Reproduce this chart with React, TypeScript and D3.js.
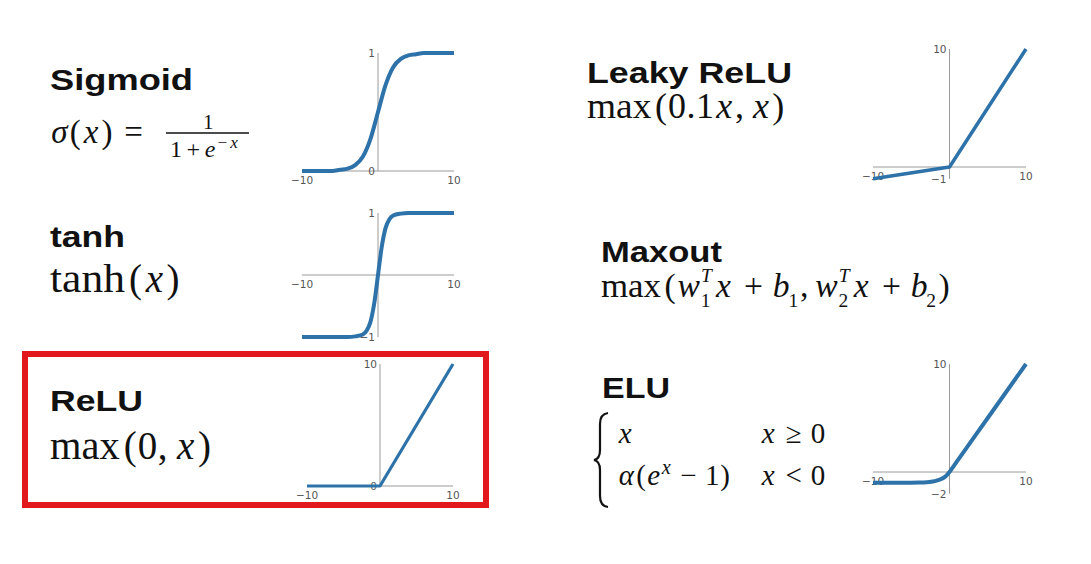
import React, { useEffect, useRef } from 'react';
import * as d3 from 'd3';

const W = 1091;
const H = 564;
const BLUE = '#2d72a8';
const AXIS = '#9a9a9a';

// curve samples
const sigmoidX = [-10, -8, -6, -5, -4, -3, -2, -1, 0, 1, 2, 3, 4, 5, 6, 8, 10];
const sigmoidY = [0, 0, 0, 0.01, 0.02, 0.05, 0.12, 0.27, 0.5, 0.73, 0.88, 0.95, 0.98, 0.99, 1, 1, 1];

const tanhX = [-10, -5, -4, -3, -2, -1.5, -1, -0.5, 0, 0.5, 1, 1.5, 2, 3, 4, 5, 10];
const tanhY = [-1, -1, -1, -0.99, -0.96, -0.9, -0.76, -0.46, 0, 0.46, 0.76, 0.9, 0.96, 0.99, 1, 1, 1];

const reluX = [-10, 0, 10];
const reluY = [0, 0, 10];

const leakyX = [-10, 0, 10];
const leakyY = [-1, 0, 10];

const eluX = [-10, -6, -4, -3, -2, -1, -0.5, 0, 0.5, 1, 2, 5, 10];
const eluY = [-1, -1, -0.98, -0.95, -0.86, -0.63, -0.39, 0, 0.5, 1, 2, 5, 10];

// tick labels
const X_TICKS = [-10, 10];
const sigmoidYTicks = [1, 0];
const tanhYTicks = [1, -1];
const reluYTicks = [10, 0];
const leakyYTicks = [10, -1];
const eluYTicks = [10, -2];

const titles = [
  { text: 'Sigmoid', x: 50, y: 90, w: 143 },
  { text: 'tanh', x: 50, y: 247, w: 75 },
  { text: 'ReLU', x: 50, y: 411, w: 93 },
  { text: 'Leaky ReLU', x: 587, y: 83, w: 205 },
  { text: 'Maxout', x: 601, y: 262, w: 121 },
  { text: 'ELU', x: 602, y: 398, w: 68 },
];

type Opt = { it?: boolean; s?: number; dy?: number; keep?: boolean };
type Piece = [string, number, Opt?];

const sub = (t: string): Piece => [t, 0.5, { s: 0.58, dy: 0.3 }];
const sup = (t: string, w: number): Piece => [t, w, { s: 0.58, dy: -0.45, it: true, keep: true }];

const sigmoidLhs: Piece[] = [['σ', 0.571, { it: true }], ['(', 0.389], ['x', 0.572, { it: true }], [')', 0.389], [' ', 0.22], ['=', 0.778]];
const sigmoidDen: Piece[] = [['1', 0.5], [' ', 0.08], ['+', 0.778], [' ', 0.08], ['e', 0.466, { it: true }], ['−', 0.778, { s: 0.72, dy: -0.36 }], ['x', 0.572, { s: 0.72, dy: -0.36, it: true }]];
const tanhF: Piece[] = [['tanh', 2.001], ['(', 0.389], ['x', 0.572, { it: true }], [')', 0.389]];
const reluF: Piece[] = [['max', 1.861], ['(', 0.389], ['0', 0.5], [',', 0.278], [' ', 0.167], ['x', 0.572, { it: true }], [')', 0.389]];
const leakyF: Piece[] = [['max', 1.861], ['(', 0.389], ['0', 0.5], ['.', 0.278], ['1', 0.5], ['x', 0.572, { it: true }], [',', 0.278], [' ', 0.167], ['x', 0.572, { it: true }], [')', 0.389]];
const maxoutF: Piece[] = [
  ['max', 1.861], ['(', 0.389], ['w', 0.716, { it: true }], sup('T', 0.584), sub('1'), [' ', 0.1],
  ['x', 0.572, { it: true }], [' ', 0.222], ['+', 0.778], [' ', 0.222], ['b', 0.429, { it: true }], sub('1'), [' ', 0.04],
  [',', 0.278], [' ', 0.167], ['w', 0.716, { it: true }], sup('T', 0.584), sub('2'), [' ', 0.1],
  ['x', 0.572, { it: true }], [' ', 0.222], ['+', 0.778], [' ', 0.222], ['b', 0.429, { it: true }], sub('2'), [' ', 0.04], [')', 0.389],
];
const eluRow1a: Piece[] = [['x', 0.572, { it: true }]];
const eluRow1b: Piece[] = [['x', 0.572, { it: true }], [' ', 0.2], ['≥', 0.778], [' ', 0.2], ['0', 0.5]];
const eluRow2a: Piece[] = [['α', 0.64, { it: true }], ['(', 0.389], ['e', 0.466, { it: true }], ['x', 0.572, { s: 0.7, dy: -0.38, it: true }], [' ', 0.18], ['−', 0.778], [' ', 0.18], ['1', 0.5], [')', 0.389]];
const eluRow2b: Piece[] = [['x', 0.572, { it: true }], [' ', 0.2], ['<', 0.778], [' ', 0.2], ['0', 0.5]];

const charts = [
  { xs: sigmoidX, ys: sigmoidY, yDomain: [0, 1], xPx: [302, 454], yPx: [171, 53], yTicks: sigmoidYTicks, sw: 4, smooth: true },
  { xs: tanhX, ys: tanhY, yDomain: [-1, 1], xPx: [302, 454], yPx: [337, 213], yTicks: tanhYTicks, sw: 4, smooth: true },
  { xs: reluX, ys: reluY, yDomain: [0, 10], xPx: [307, 453], yPx: [486, 364], yTicks: reluYTicks, sw: 3.2, smooth: false },
  { xs: leakyX, ys: leakyY, yDomain: [-1, 10], xPx: [873, 1026], yPx: [178.8, 49], yTicks: leakyYTicks, sw: 3.5, smooth: false },
  { xs: eluX, ys: eluY, yDomain: [-2, 10], xPx: [873, 1026], yPx: [493.6, 364], yTicks: eluYTicks, sw: 4, smooth: true },
];

const fmt = (v: number) => (v < 0 ? `−${Math.abs(v)}` : `${v}`);

function drawMath(g: any, x0: number, y0: number, f: number, pieces: Piece[]) {
  let x = x0;
  pieces.forEach(([t, w, o = {}]) => {
    const size = f * (o.s ?? 1);
    const wp = w * size;
    if (t.trim()) {
      const el = g.append('text')
        .attr('y', y0 + (o.dy ?? 0) * f)
        .attr('font-size', size)
        .attr('font-family', '"Liberation Serif", serif')
        .attr('font-style', o.it ? 'italic' : 'normal')
        .attr('fill', '#111')
        .text(t);
      if (t.length > 1) el.attr('x', x).attr('textLength', wp * 0.96).attr('lengthAdjust', 'spacingAndGlyphs');
      else el.attr('x', x + wp / 2).attr('text-anchor', 'middle');
    }
    if (!o.keep) x += wp;
  });
  return x;
}

const App: React.FC = () => {
  const svgRef = useRef<SVGSVGElement>(null);

  useEffect(() => {
    if (!svgRef.current) return;
    const svg = d3.select(svgRef.current);
    svg.selectAll('*').remove();

    svg.append('rect').attr('width', W).attr('height', H).attr('fill', '#fff');

    // highlight box around ReLU
    svg.append('rect')
      .attr('x', 25).attr('y', 354).attr('width', 461).attr('height', 151)
      .attr('fill', 'none').attr('stroke', '#e2191c').attr('stroke-width', 6);

    // titles
    titles.forEach(t => {
      svg.append('text')
        .attr('x', t.x).attr('y', t.y)
        .attr('font-family', '"Liberation Sans", Arial, sans-serif')
        .attr('font-weight', 'bold').attr('font-size', 30)
        .attr('textLength', t.w).attr('lengthAdjust', 'spacingAndGlyphs')
        .attr('fill', '#111')
        .text(t.text);
    });

    // formulas
    const m = svg.append('g');
    drawMath(m, 50, 143, 33, sigmoidLhs);
    m.append('line').attr('x1', 166).attr('x2', 249).attr('y1', 133).attr('y2', 133).attr('stroke', '#111').attr('stroke-width', 1.4);
    drawMath(m, 203, 129, 21, [['1', 0.5]]);
    drawMath(m, 170, 157, 24, sigmoidDen);
    drawMath(m, 50, 292, 39, tanhF);
    drawMath(m, 50, 459, 39, reluF);
    drawMath(m, 587, 118, 36, leakyF);
    drawMath(m, 601, 297, 33.6, maxoutF);
    drawMath(m, 617, 443, 29, eluRow1a);
    drawMath(m, 760, 443, 29, eluRow1b);
    drawMath(m, 617, 485, 29, eluRow2a);
    drawMath(m, 760, 485, 29, eluRow2b);
    m.append('path')
      .attr('d', 'M 608 413 Q 600 414 600 424 L 600 450 Q 600 459 594 460 Q 600 461 600 470 L 600 496 Q 600 506 608 507')
      .attr('fill', 'none').attr('stroke', '#111').attr('stroke-width', 2.2);

    // mini charts
    charts.forEach(c => {
      const x = d3.scaleLinear().domain([-10, 10]).range(c.xPx);
      const y = d3.scaleLinear().domain(c.yDomain).range(c.yPx);
      const g = svg.append('g');

      g.append('line').attr('x1', x(-10)).attr('x2', x(10)).attr('y1', y(0)).attr('y2', y(0)).attr('stroke', AXIS).attr('stroke-width', 1);
      g.append('line').attr('x1', x(0)).attr('x2', x(0)).attr('y1', y(c.yDomain[0])).attr('y2', y(c.yDomain[1])).attr('stroke', AXIS).attr('stroke-width', 1);

      g.selectAll('.xt').data(X_TICKS).enter().append('text')
        .attr('x', d => x(d)).attr('y', y(0) + 8.5)
        .attr('text-anchor', 'middle').attr('dominant-baseline', 'central')
        .attr('font-family', '"DejaVu Sans", sans-serif').attr('font-size', 10.5).attr('fill', '#555')
        .text(d => fmt(d));

      g.selectAll('.yt').data(c.yTicks).enter().append('text')
        .attr('x', x(0) - 3).attr('y', d => y(d))
        .attr('text-anchor', 'end').attr('dominant-baseline', 'central')
        .attr('font-family', '"DejaVu Sans", sans-serif').attr('font-size', 10.5).attr('fill', '#555')
        .text(d => fmt(d));

      const pts = c.xs.map((v, i) => [v, c.ys[i]] as [number, number]);
      const line = d3.line<[number, number]>()
        .x(d => x(d[0])).y(d => y(d[1]))
        .curve(c.smooth ? d3.curveMonotoneX : d3.curveLinear);
      g.append('path').attr('d', line(pts) ?? '')
        .attr('fill', 'none').attr('stroke', BLUE).attr('stroke-width', c.sw)
        .attr('stroke-linejoin', 'round');
    });
  }, []);

  return (
    <svg ref={svgRef} width={W} height={H} style={{ position: 'absolute', left: 0, top: 0 }} />
  );
};

export default App;
